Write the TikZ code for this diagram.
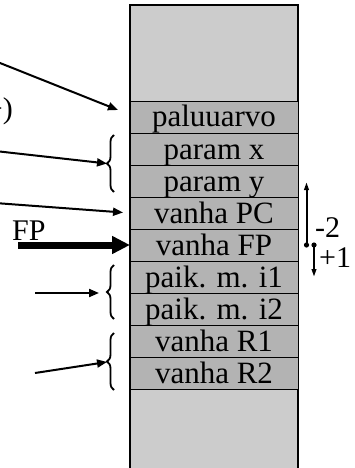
\documentclass[tikz,border=0pt]{standalone}
\usepackage{fontspec}
\setmainfont{Liberation Serif}
\usetikzlibrary{arrows.meta,decorations.pathreplacing}
\definecolor{lightcol}{HTML}{CCCCCC}
\definecolor{cellcol}{HTML}{B3B3B3}
\begin{document}
\begin{tikzpicture}[x=1pt,y=-1pt,
  cellbox/.style={draw=black,line width=0.9pt,fill=cellcol,minimum width=168pt,minimum height=32pt,inner sep=0pt,outer sep=0pt,anchor=north west},
  celltext/.style={font=\fontsize{31}{31}\selectfont,anchor=base,inner sep=0pt},
  lbl/.style={font=\fontsize{30}{30}\selectfont,inner sep=0pt},
  ptr/.style={line width=2pt,-{Triangle[length=10pt,width=8pt]}},
  brc/.style={decorate,decoration={brace,amplitude=7pt},line width=1.8pt},
  offs/.style={line width=2pt,-{Triangle[length=8pt,width=4.5pt]}}]
\useasboundingbox (0,0) rectangle (354,468);
\begin{scope}
\clip (0,0) rectangle (354,468);
% stack column
\node[draw=black,line width=1.2pt,fill=lightcol,minimum width=168pt,minimum height=470pt,inner sep=0pt,outer sep=0pt,anchor=north west] (col) at (130,5) {};
% cells
\foreach \i/\t [count=\k from 0] in {c0/paluuarvo,c1/param x,c2/param y,c3/vanha PC,c4/vanha FP,c5/paik. m. i1,c6/paik. m. i2,c7/vanha R1,c8/vanha R2}{
  \node[cellbox] (\i) at (130,101+32*\k) {};
  \node[celltext] (t\i) at (214,127+32*\k) {\t};
}
% left text (clipped)
\node[lbl,anchor=base east] (ltxt) at (13,118) {+)};
% left arrows
\coordinate (s1) at (-5,61);
\coordinate (e1) at (118,110);
\draw[ptr] (s1) -- (e1);
\coordinate (s2) at (-5,151);
\coordinate (e2) at (107,163.5);
\draw[ptr] (s2) -- (e2);
\coordinate (s3) at (-5,203);
\coordinate (e3) at (123,212.5);
\draw[ptr] (s3) -- (e3);
% braces
\coordinate (b1a) at (114,192); \coordinate (b1b) at (114,135);
\draw[brc] (b1a) -- (b1b);
\coordinate (b2a) at (114,319); \coordinate (b2b) at (114,265);
\draw[brc] (b2a) -- (b2b);
\coordinate (b3a) at (114,390); \coordinate (b3b) at (114,333);
\draw[brc] (b3a) -- (b3b);
\coordinate (s5) at (35,293);
\coordinate (e5) at (99,293);
\draw[ptr] (s5) -- (e5);
\coordinate (s6) at (35,373);
\coordinate (e6) at (107,362);
\draw[ptr] (s6) -- (e6);
% FP
\node[lbl,anchor=base west] (fp) at (12,240) {FP};
\coordinate (sfp) at (18,245);
\draw[line width=7pt,-{Triangle[length=18pt,width=17pt]}] (sfp) -- (c4.west);
% offsets on the right
\coordinate (d1) at (306.5,245);
\coordinate (u1) at (306.5,182);
\coordinate (d2) at (314,245);
\coordinate (u2) at (314,277);
\draw[offs] (d1) -- (u1);
\draw[offs] (d2) -- (u2);
\fill (d1) circle (2.6pt);
\fill (d2) circle (2.6pt);
\node[lbl,anchor=base west] (m2) at (315,237) {-2};
\node[lbl,anchor=base west] (p1) at (319,267) {+1};
\end{scope}
\end{tikzpicture}
\end{document}
